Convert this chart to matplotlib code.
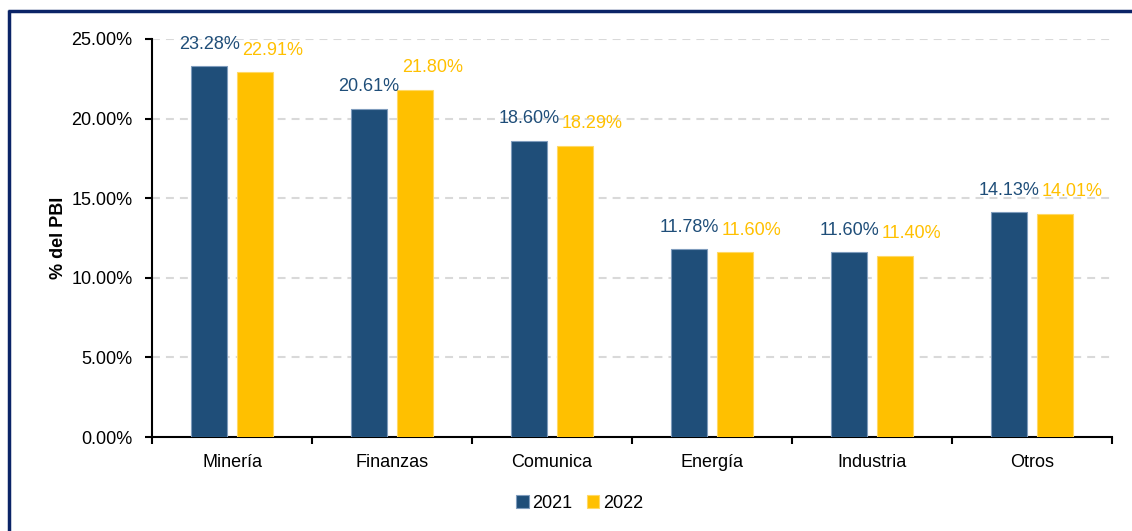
import numpy as np
import matplotlib.pyplot as plt
from matplotlib.lines import Line2D
from matplotlib.ticker import FuncFormatter, FixedLocator

plt.rcParams['font.family'] = ['Liberation Sans', 'DejaVu Sans']

# participacion por sector, % del PBI
sectores = ['Minería', 'Finanzas', 'Comunica', 'Energía', 'Industria', 'Otros']
valores_2021 = [23.28, 20.61, 18.60, 11.78, 11.60, 14.13]
valores_2022 = [22.91, 21.80, 18.29, 11.60, 11.40, 14.01]
anios = ['2021', '2022']

azul = '#1f4e79'
amarillo = '#ffc000'

fig = plt.figure(figsize=(11.32, 5.31), dpi=100)
ax = fig.add_axes([0.1343, 0.177, 0.8480, 0.7496])

x = np.arange(len(sectores))
ancho = 0.225
desp = 0.143

b1 = ax.bar(x - desp, valores_2021, ancho, color=azul, edgecolor='#7f9cbd',
            linewidth=0.8, label=anios[0], zorder=3)
b2 = ax.bar(x + desp, valores_2022, ancho, color=amarillo, edgecolor='#ffd966',
            linewidth=0.8, label=anios[1], zorder=3)

# etiquetas de valor sobre cada barra
for xi, v in zip(x, valores_2021):
    ax.annotate(f'{v:.2f}%', (xi - desp, v), xytext=(0, 22),
                textcoords='offset pixels', ha='center', va='center',
                color=azul, fontsize=13)
for xi, v in zip(x, valores_2022):
    ax.annotate(f'{v:.2f}%', (xi + desp - ancho / 2, v), xytext=(5, 22),
                textcoords='offset pixels', ha='left', va='center',
                color=amarillo, fontsize=13)

ax.set_xlim(-0.5, len(sectores) - 0.5)
ax.set_ylim(0, 25)
ax.set_yticks(np.arange(0, 26, 5))
ax.yaxis.set_major_formatter(FuncFormatter(lambda v, p: f'{v:.2f}%'))

# ticks del eje x entre categorias, etiquetas centradas
ax.xaxis.set_major_locator(FixedLocator(np.arange(-0.5, len(sectores), 1.0)))
ax.set_xticklabels([])
ax.set_xticks(x, minor=True)
ax.set_xticklabels(sectores, minor=True)
ax.tick_params(axis='x', which='minor', length=0, pad=12, labelsize=13)
ax.tick_params(axis='x', which='major', length=5, width=1.5, direction='out')
ax.tick_params(axis='y', length=5, width=1.5, direction='out', pad=9, labelsize=13)

for v in range(5, 26, 5):
    ax.axhline(v, color='#d9d9d9', lw=1.5, ls=(0, (3.8, 2.9)), zorder=1)

for lado in ['top', 'right']:
    ax.spines[lado].set_visible(False)
for lado in ['left', 'bottom']:
    ax.spines[lado].set_linewidth(1.5)
    ax.spines[lado].set_color('black')

ax.set_ylabel('% del PBI', fontsize=13, fontweight='bold')
ax.yaxis.set_label_coords(-0.089, 0.5)

fig.legend(handles=[b1, b2], labels=anios, loc='center',
           bbox_to_anchor=(0.512, 0.052), ncol=2, frameon=False,
           fontsize=13, handlelength=0.7, handleheight=0.7,
           handletextpad=0.2, columnspacing=0.8)

# marco azul oscuro arriba y a la izquierda
fig.add_artist(Line2D([0.0079, 0.0079], [0, 0.981], transform=fig.transFigure,
                      color='#0b2467', lw=2.5, solid_capstyle='butt'))
fig.add_artist(Line2D([0.0068, 1.0], [0.979, 0.979], transform=fig.transFigure,
                      color='#0b2467', lw=2.5, solid_capstyle='butt'))

fig.savefig('out.png', dpi=100)
